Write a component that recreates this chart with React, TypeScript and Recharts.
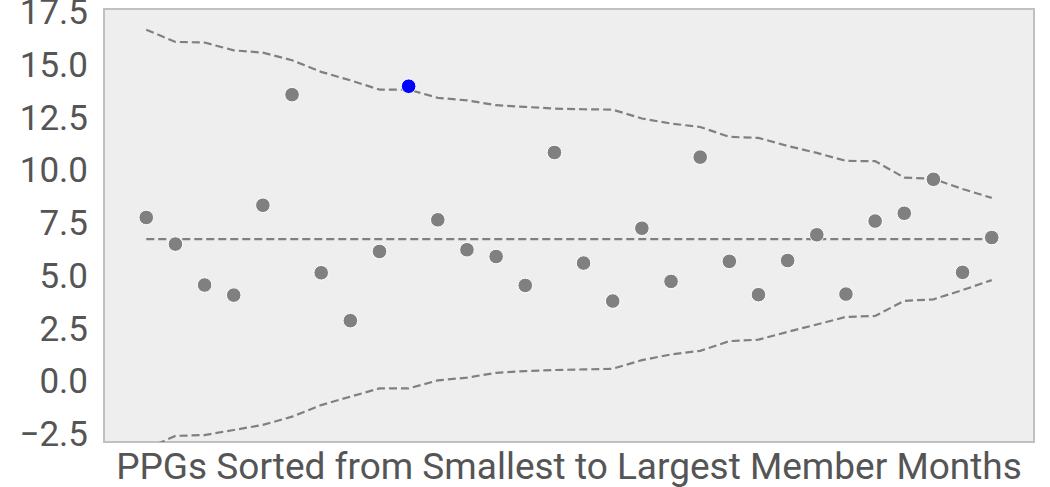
import React from 'react';
import {
  ComposedChart, Line, Scatter, XAxis, YAxis, ReferenceArea,
} from 'recharts';

// PPG rates, sorted by member months (smallest -> largest)
const rates = [
  7.75, 6.49, 4.55, 4.07, 8.33, 13.57, 5.13, 2.86, 6.14, 13.97,
  7.64, 6.22, 5.9, 4.53, 10.83, 5.59, 3.79, 7.24, 4.72, 10.61,
  5.67, 4.09, 5.71, 6.93, 4.12, 7.58, 7.95, 9.56, 5.15, 6.8,
];
const upperLimit = [
  16.65, 16.07, 16.04, 15.67, 15.56, 15.2, 14.65, 14.25, 13.81, 13.81,
  13.42, 13.3, 13.07, 12.99, 12.91, 12.88, 12.86, 12.44, 12.2, 12.04,
  11.57, 11.52, 11.14, 10.81, 10.43, 10.42, 9.64, 9.58, 9.1, 8.68,
];
const lowerLimit = [
  -3.21, -2.6, -2.56, -2.32, -2.08, -1.69, -1.14, -0.74, -0.35, -0.35,
  0.03, 0.16, 0.39, 0.47, 0.52, 0.55, 0.58, 0.99, 1.26, 1.43,
  1.89, 1.96, 2.33, 2.68, 3.04, 3.08, 3.8, 3.87, 4.31, 4.78,
];
const overallMean = 6.72;
const highlightIndex = 9;
const yTicks = [-2.5, 0, 2.5, 5, 7.5, 10, 12.5, 15, 17.5];

const X_DOMAIN: [number, number] = [-1.45, 30.45];
const Y_DOMAIN: [number, number] = [-2.89, 17.63];

const rows = rates.map((v, i) => ({
  idx: i,
  rate: v,
  upper: upperLimit[i],
  lower: lowerLimit[i],
  mean: overallMean,
}));

const TEXT = '#555555';
const GRAY = '#808080';

const fmt = (v: number) => (v < 0 ? '\u2212' + Math.abs(v).toFixed(1) : v.toFixed(1));

const Dot = (props: any) => {
  const { cx, cy, payload } = props;
  if (cx == null || cy == null) return null;
  const fill = payload.idx === highlightIndex ? '#0000ff' : GRAY;
  return <circle cx={cx} cy={cy} r={7.3} fill={fill} stroke="#ffffff" strokeWidth={1} />;
};

const AxisTitle = (props: any) => {
  const vb = props.viewBox || {};
  return (
    <text
      x={vb.x + vb.width / 2}
      y={vb.y + 37}
      textAnchor="middle"
      fill={TEXT}
      fontSize={37}
      fontFamily="Roboto"
    >
      PPGs Sorted from Smallest to Largest Member Months
    </text>
  );
};

export default function App() {
  return (
    <div style={{ position: 'absolute', left: 0, top: 0, fontFamily: 'Roboto' }}>
      <ComposedChart
        width={1050}
        height={487}
        data={rows}
        margin={{ top: 9, right: 16, bottom: 0, left: 0 }}
      >
        <ReferenceArea
          x1={X_DOMAIN[0]}
          x2={X_DOMAIN[1]}
          y1={Y_DOMAIN[0]}
          y2={Y_DOMAIN[1]}
          fill="#eeeeee"
          fillOpacity={1}
          stroke="#c0c0c0"
          strokeWidth={2}
          ifOverflow="extendDomain"
        />
        <XAxis
          type="number"
          dataKey="idx"
          domain={X_DOMAIN}
          allowDataOverflow
          tick={false}
          tickLine={false}
          axisLine={false}
          height={45}
          label={<AxisTitle />}
        />
        <YAxis
          type="number"
          domain={Y_DOMAIN}
          allowDataOverflow
          ticks={yTicks}
          interval={0}
          tickFormatter={fmt}
          tickLine={false}
          axisLine={false}
          tickSize={0}
          tickMargin={16}
          width={104}
          tick={{ fill: TEXT, fontSize: 35, fontFamily: 'Roboto' }}
        />
        <Line
          dataKey="upper"
          stroke={GRAY}
          strokeWidth={2.2}
          strokeDasharray="8 4"
          dot={false}
          isAnimationActive={false}
        />
        <Line
          dataKey="lower"
          stroke={GRAY}
          strokeWidth={2.2}
          strokeDasharray="8 4"
          dot={false}
          isAnimationActive={false}
        />
        <Line
          dataKey="mean"
          stroke={GRAY}
          strokeWidth={2.2}
          strokeDasharray="8 4"
          dot={false}
          isAnimationActive={false}
        />
        <Scatter dataKey="rate" shape={<Dot />} isAnimationActive={false} />
      </ComposedChart>
    </div>
  );
}
